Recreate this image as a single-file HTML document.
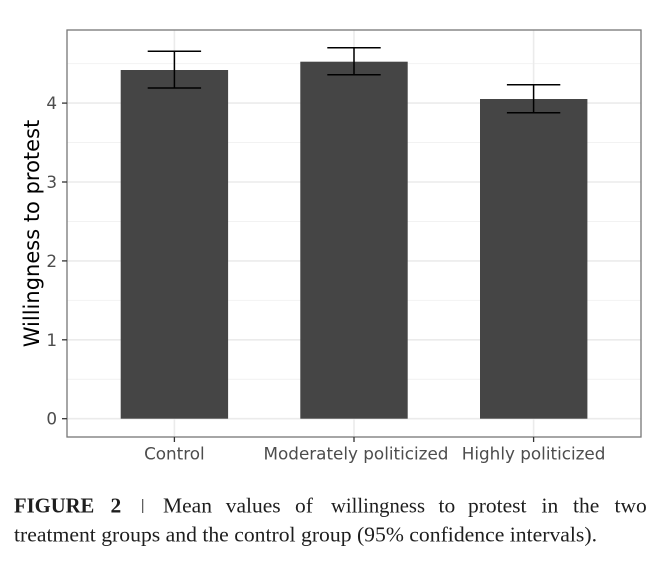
<!DOCTYPE html>
<html>
<head>
<meta charset="utf-8">
<style>
  html, body { margin:0; padding:0; background:#ffffff; }
  svg { display:block; }
</style>
</head>
<body>
<svg width="661" height="562" viewBox="0 0 661 562" xmlns="http://www.w3.org/2000/svg">
  <rect x="0" y="0" width="661" height="562" fill="#ffffff"/>

  <!-- minor gridlines -->
  <g stroke="#f1f1f1" stroke-width="0.9">
    <line x1="67" y1="379.25" x2="641" y2="379.25"/>
    <line x1="67" y1="300.35" x2="641" y2="300.35"/>
    <line x1="67" y1="221.45" x2="641" y2="221.45"/>
    <line x1="67" y1="142.55" x2="641" y2="142.55"/>
    <line x1="67" y1="63.65" x2="641" y2="63.65"/>
  </g>
  <!-- major gridlines -->
  <g stroke="#ebebeb" stroke-width="1.6">
    <line x1="67" y1="418.7" x2="641" y2="418.7"/>
    <line x1="67" y1="339.8" x2="641" y2="339.8"/>
    <line x1="67" y1="260.9" x2="641" y2="260.9"/>
    <line x1="67" y1="182" x2="641" y2="182"/>
    <line x1="67" y1="103.1" x2="641" y2="103.1"/>
    <line x1="174.4" y1="30" x2="174.4" y2="437"/>
    <line x1="354" y1="30" x2="354" y2="437"/>
    <line x1="533.6" y1="30" x2="533.6" y2="437"/>
  </g>

  <!-- bars -->
  <g fill="#454545">
    <rect x="120.7" y="70" width="107.4" height="348.7"/>
    <rect x="300.3" y="61.7" width="107.4" height="357"/>
    <rect x="480" y="99" width="107.4" height="319.7"/>
  </g>

  <!-- error bars -->
  <g stroke="#000000" stroke-width="1.5" fill="none">
    <line x1="174.4" y1="51.3" x2="174.4" y2="88"/>
    <line x1="147.7" y1="51.3" x2="201.1" y2="51.3"/>
    <line x1="147.7" y1="88" x2="201.1" y2="88"/>

    <line x1="354" y1="47.7" x2="354" y2="74.7"/>
    <line x1="327.3" y1="47.7" x2="380.7" y2="47.7"/>
    <line x1="327.3" y1="74.7" x2="380.7" y2="74.7"/>

    <line x1="533.6" y1="84.7" x2="533.6" y2="112.7"/>
    <line x1="506.9" y1="84.7" x2="560.3" y2="84.7"/>
    <line x1="506.9" y1="112.7" x2="560.3" y2="112.7"/>
  </g>

  <!-- panel border -->
  <rect x="67" y="30" width="574" height="407" fill="none" stroke="#777777" stroke-width="1.3"/>

  <!-- ticks -->
  <g stroke="#333333" stroke-width="1.3">
    <line x1="62" y1="418.7" x2="67" y2="418.7"/>
    <line x1="62" y1="339.8" x2="67" y2="339.8"/>
    <line x1="62" y1="260.9" x2="67" y2="260.9"/>
    <line x1="62" y1="182" x2="67" y2="182"/>
    <line x1="62" y1="103.1" x2="67" y2="103.1"/>
    <line x1="174.4" y1="437" x2="174.4" y2="442"/>
    <line x1="354" y1="437" x2="354" y2="442"/>
    <line x1="533.6" y1="437" x2="533.6" y2="442"/>
  </g>

  <!-- y tick labels -->
  <g font-family="'DejaVu Sans', 'Liberation Sans', sans-serif" font-size="16.8" fill="#4d4d4d" text-anchor="end">
    <text x="57" y="424.7">0</text>
    <text x="57" y="345.8">1</text>
    <text x="57" y="266.9">2</text>
    <text x="57" y="188">3</text>
    <text x="57" y="109.1">4</text>
  </g>

  <!-- x tick labels -->
  <g font-family="'DejaVu Sans', 'Liberation Sans', sans-serif" font-size="16.8" fill="#4d4d4d" text-anchor="middle">
    <text x="174.4" y="459.3">Control</text>
    <text x="356" y="459.3">Moderately politicized</text>
    <text x="533.6" y="459.3">Highly politicized</text>
  </g>

  <!-- y axis title -->
  <text x="0" y="0" transform="translate(39,233.5) rotate(-90)" font-family="'DejaVu Sans', 'Liberation Sans', sans-serif" font-size="21" fill="#000000" text-anchor="middle">Willingness to protest</text>

  <!-- caption -->
  <g font-family="'Liberation Serif', serif" font-size="21.5" fill="#1e1e1e">
    <text x="14" y="512.7" font-weight="bold" textLength="80.3" lengthAdjust="spacingAndGlyphs">FIGURE</text>
    <text x="110.5" y="512.7" font-weight="bold">2</text>
    <line x1="142.7" y1="499" x2="142.7" y2="513" stroke="#444444" stroke-width="1.1"/>
    <text x="163" y="512.7">Mean</text>
    <text x="225.7" y="512.7">values</text>
    <text x="295" y="512.7">of</text>
    <text x="331" y="512.7" textLength="94" lengthAdjust="spacingAndGlyphs">willingness</text>
    <text x="438.5" y="512.7">to</text>
    <text x="468" y="512.7">protest</text>
    <text x="541.5" y="512.7">in</text>
    <text x="573" y="512.7">the</text>
    <text x="614.5" y="512.7">two</text>
    <text x="14" y="541.7" textLength="583" lengthAdjust="spacingAndGlyphs">treatment groups and the control group (95% confidence intervals).</text>
  </g>
</svg>
</body>
</html>
